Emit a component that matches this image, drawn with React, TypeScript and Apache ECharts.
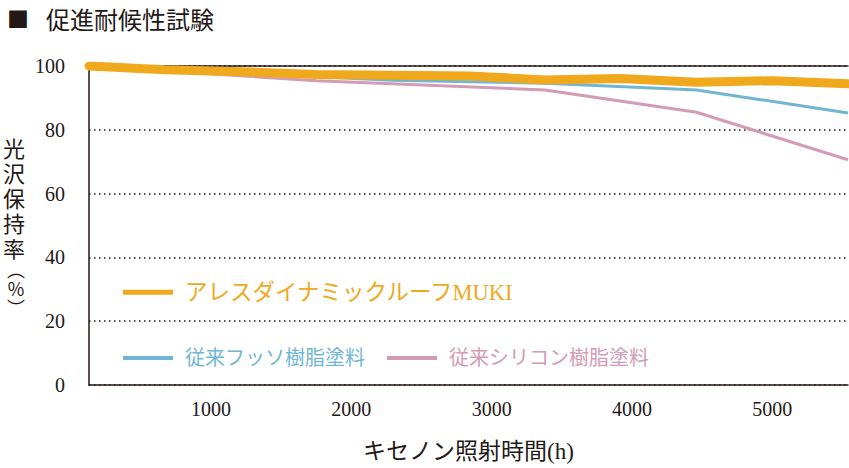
import * as echarts from 'echarts';
import { useEffect, useRef } from 'react';

// hours (the axis labels sit a bit off the data grid in the original)
const hours = [130, 670, 1210, 1750, 2290, 2840, 3380, 3920, 4460, 5000, 5540];
const mukiValues = [100, 98.8, 98.2, 97.3, 97.1, 96.9, 95.6, 96.1, 94.9, 95.4, 94.4];

const fluorineHours = [130, 2290, 3380, 4460, 5540];
const fluorineValues = [100, 95.5, 94.6, 92.5, 85.3];

const siliconeHours = [130, 1750, 3380, 4460, 5540];
const siliconeValues = [100, 95.4, 92.5, 85.5, 70.6];

const xTicks = [1000, 2000, 3000, 4000, 5000];
const yTicks = [0, 20, 40, 60, 80, 100];

const names = ['アレスダイナミックルーフMUKI', '従来フッソ樹脂塗料', '従来シリコン樹脂塗料'];
const colors = ['#F0A81C', '#70B6D4', '#D49BB5'];

const FONT = '"Liberation Serif", "Noto Sans CJK JP", serif';
const CJK = '"Noto Sans CJK JP", sans-serif';
const INK = '#231815';

const pairs = (xs: number[], ys: number[]) => xs.map((x, i) => [x, ys[i]]);

const App = () => {
  const chartRef = useRef<HTMLDivElement>(null);

  useEffect(() => {
    if (chartRef.current === null) return;
    const chart = echarts.init(chartRef.current, null, { renderer: 'svg' });

    const options = {
      animation: false,
      title: [
        {
          text: '■',
          left: 2,
          top: 1,
          textStyle: { fontFamily: CJK, fontSize: 22, fontWeight: 'normal', color: INK },
        },
        {
          text: '促進耐候性試験',
          left: 41,
          top: 1,
          textStyle: { fontFamily: CJK, fontSize: 24, fontWeight: 'normal', color: INK },
        },
      ],
      grid: { left: 88, right: 1, top: 66, bottom: 82 },
      legend: [
        {
          left: 118,
          top: 276,
          icon: 'rect',
          itemWidth: 50,
          itemHeight: 5,
          data: [{ name: names[0], textStyle: { color: colors[0], fontSize: 22.5 } }],
          textStyle: { fontFamily: FONT, padding: [0, 0, 0, 7] },
        },
        {
          left: 118,
          top: 343,
          icon: 'rect',
          itemWidth: 50,
          itemHeight: 4,
          itemGap: 22,
          data: [
            { name: names[1], textStyle: { color: colors[1], fontSize: 20 } },
            { name: names[2], textStyle: { color: colors[2], fontSize: 20 } },
          ],
          textStyle: { fontFamily: FONT, padding: [0, 0, 0, 7] },
        },
      ],
      xAxis: [
        {
          type: 'value',
          min: hours[0],
          max: hours[hours.length - 1],
          name: 'キセノン照射時間(h)',
          nameLocation: 'middle',
          nameGap: 55,
          nameTextStyle: { fontFamily: FONT, fontSize: 23, color: INK },
          axisLine: { show: true, lineStyle: { color: INK, width: 1.5 } },
          axisTick: { show: false },
          splitLine: { show: false },
          axisLabel: {
            customValues: xTicks,
            formatter: (v: number) => String(v),
            fontFamily: FONT,
            fontSize: 20,
            color: INK,
            margin: 14,
          },
        },
        {
          type: 'value',
          position: 'top',
          min: hours[0],
          max: hours[hours.length - 1],
          axisLine: { show: true, lineStyle: { color: INK, width: 1.5 } },
          axisTick: { show: false },
          axisLabel: { show: false },
          splitLine: { show: false },
        },
      ],
      yAxis: {
        type: 'value',
        min: yTicks[0],
        max: yTicks[yTicks.length - 1],
        interval: 20,
        name: '{c|光}\n{c|沢}\n{c|保}\n{c|持}\n{c|率}\n{p|︵}\n{p|％}\n{p|︶}',
        nameLocation: 'middle',
        nameRotate: 0,
        nameGap: 64,
        nameTextStyle: {
          fontFamily: CJK,
          fontSize: 22,
          color: INK,
          rich: {
            c: { fontFamily: CJK, fontSize: 22, color: INK, lineHeight: 25 },
            p: { fontFamily: CJK, fontSize: 18, color: INK, lineHeight: 19 },
          },
        },
        axisLine: { show: true, lineStyle: { color: INK, width: 1.5 } },
        axisTick: { show: false },
        axisLabel: { fontFamily: FONT, fontSize: 20, color: INK, margin: 24 },
        splitLine: { show: true, lineStyle: { type: [1.5, 3.5], color: INK, width: 1.5 } },
      },
      series: [
        {
          name: names[1],
          type: 'line',
          data: pairs(fluorineHours, fluorineValues),
          showSymbol: false,
          color: colors[1],
          lineStyle: { width: 3, color: colors[1] },
        },
        {
          name: names[2],
          type: 'line',
          data: pairs(siliconeHours, siliconeValues),
          showSymbol: false,
          color: colors[2],
          lineStyle: { width: 3, color: colors[2] },
        },
        {
          name: names[0],
          type: 'line',
          data: pairs(hours, mukiValues),
          showSymbol: false,
          color: colors[0],
          lineStyle: { width: 9, color: colors[0], cap: 'round', join: 'round' },
        },
      ],
    };

    chart.setOption(options);

    return () => {
      chart.dispose();
    };
  }, []);

  return (
    <div
      ref={chartRef}
      style={{ position: 'fixed', left: 0, top: 0, width: 849, height: 468, background: '#fff' }}
    ></div>
  );
};

export default App;
